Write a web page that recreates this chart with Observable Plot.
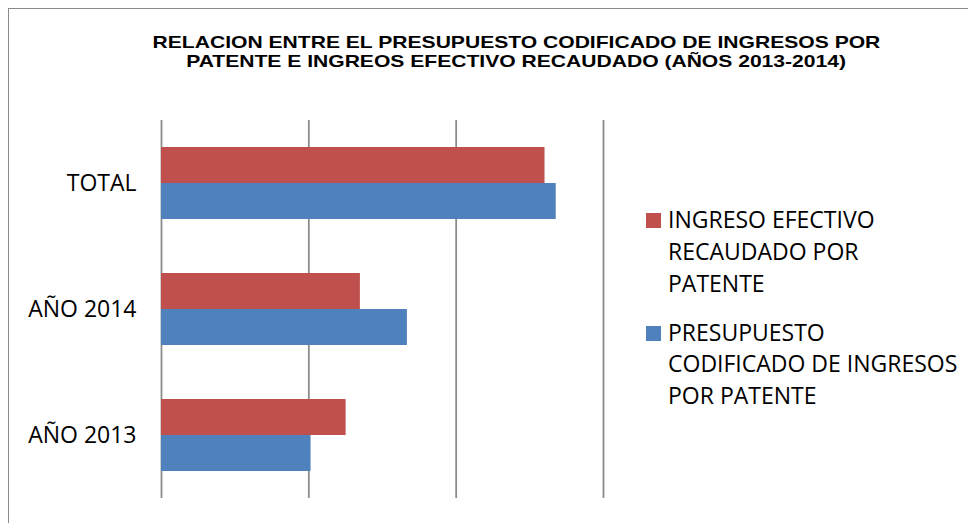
<!DOCTYPE html>
<html>
<head>
<meta charset="utf-8">
<script src="https://cdn.jsdelivr.net/npm/d3@7"></script>
<script src="https://cdn.jsdelivr.net/npm/@observablehq/plot@0.6"></script>
<style>
  html, body { margin: 0; padding: 0; background: #fff; overflow: hidden; }
  #root { position: relative; width: 968px; height: 523px; overflow: hidden; background: #fff; }
  #frame { position: absolute; left: 8px; top: 8px; width: 1200px; height: 800px;
           border-left: 1.5px solid #8a8a8a; border-top: 1.5px solid #8a8a8a; }
  #chart { position: absolute; left: 0; top: 0; }
  #title { position: absolute; left: 0; top: 33px; width: 1032px; text-align: center;
           font-family: "Liberation Sans", Arial, sans-serif; font-weight: bold; font-size: 17px;
           line-height: 19px; color: #000; z-index: 2; }
  #title span { display: inline-block; transform: scaleX(1.24); transform-origin: center; white-space: nowrap; }
  #legend { position: absolute; left: 646px; top: 204.3px; z-index: 2;
            font-family: "Open Sans", sans-serif; font-size: 23px; line-height: 31.7px; color: #000; }
  .item { position: relative; padding-left: 22px; margin-bottom: 17.3px; white-space: nowrap; }
  .swatch { position: absolute; left: 0; top: 9px; width: 15px; height: 15px; }
</style>
</head>
<body>
<div id="root">
  <div id="frame"></div>
  <div id="chart"></div>
  <div id="title"></div>
  <div id="legend"></div>
</div>
<script>
// ---- data ----
const titleLines = [
  "RELACION ENTRE EL PRESUPUESTO CODIFICADO DE INGRESOS POR",
  "PATENTE E INGREOS EFECTIVO RECAUDADO (AÑOS 2013-2014)"
];
const categories = ["TOTAL", "AÑO 2014", "AÑO 2013"];
const seriesNames = [
  "INGRESO EFECTIVO RECAUDADO POR PATENTE",
  "PRESUPUESTO CODIFICADO DE INGRESOS POR PATENTE"
];
const legendLines = [
  ["INGRESO EFECTIVO", "RECAUDADO POR", "PATENTE"],
  ["PRESUPUESTO", "CODIFICADO DE INGRESOS", "POR PATENTE"]
];
const ingresoEfectivo = [2.603, 1.350, 1.253];
const presupuestoCodificado = [2.679, 1.669, 1.015];
const gridTicks = [0, 1, 2, 3];
const colors = ["#C0504D", "#4F81BD"];

// ---- build table ----
const rows = categories.map((c, i) => ({
  cat: c, ingreso: ingresoEfectivo[i], presupuesto: presupuestoCodificado[i]
}));

const plot = Plot.plot({
  width: 640,
  height: 523,
  marginTop: 120,
  marginBottom: 25,
  marginLeft: 161,
  marginRight: 37,
  style: { background: "transparent", fontFamily: "Open Sans, sans-serif", fontSize: "23px", color: "#000" },
  x: { domain: [0, 3], axis: null },
  y: { domain: categories, paddingInner: 0.4286, paddingOuter: 0.2143, label: null,
       tickSize: 0, tickPadding: 25 },
  marks: [
    Plot.ruleX(gridTicks, { x: d => d, stroke: "#8c8c8c", strokeWidth: 1.8 }),
    Plot.barX(rows, { y: "cat", x: "ingreso", fill: colors[0], insetBottom: 36, insetTop: 0 }),
    Plot.barX(rows, { y: "cat", x: "presupuesto", fill: colors[1], insetTop: 36, insetBottom: 0 }),
    Plot.axisY({ tickSize: 0, tickPadding: 25, fontSize: 23, label: null })
  ]
});
document.getElementById("chart").appendChild(plot);

// title
const t = document.getElementById("title");
titleLines.forEach(line => {
  const d = document.createElement("div");
  const s = document.createElement("span");
  s.textContent = line;
  d.appendChild(s);
  t.appendChild(d);
});

// legend
const lg = document.getElementById("legend");
seriesNames.forEach((name, i) => {
  const item = document.createElement("div");
  item.className = "item";
  item.title = name;
  const sw = document.createElement("div");
  sw.className = "swatch";
  sw.style.background = colors[i];
  item.appendChild(sw);
  legendLines[i].forEach(l => {
    const ln = document.createElement("div");
    ln.textContent = l;
    item.appendChild(ln);
  });
  lg.appendChild(item);
});
</script>
</body>
</html>
